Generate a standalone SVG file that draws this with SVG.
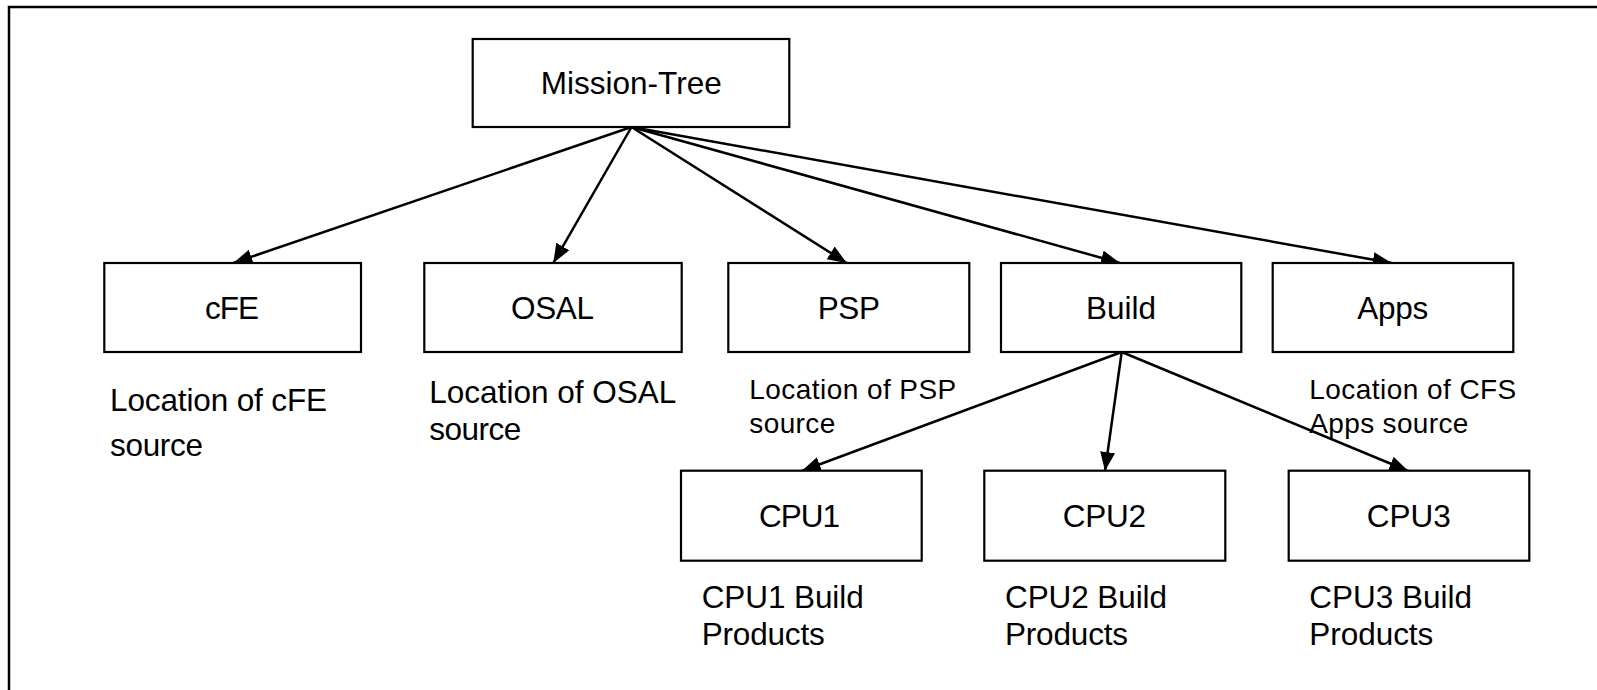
<svg xmlns="http://www.w3.org/2000/svg" width="1597" height="690" viewBox="0 0 1597 690">
<style>
.box{fill:#fff;stroke:#000;stroke-width:2.2}
.t{font-family:"Liberation Sans",Arial,sans-serif;font-size:31.5px;fill:#000}
.s{font-family:"Liberation Sans",Arial,sans-serif;font-size:28px;fill:#000}
.c{stroke:#000;stroke-width:2.5;fill:none}
</style>
<defs>
<marker id="ah" markerUnits="userSpaceOnUse" markerWidth="22" markerHeight="16" refX="19" refY="7.5" orient="auto">
<path d="M0,0 L19,7.5 L0,15 z" fill="#000"/>
</marker>
</defs>
<rect x="9" y="7" width="1620" height="720" fill="#fff" stroke="#000" stroke-width="2.5"/>
<g id="connectors">
<line class="c" x1="631.5" y1="127" x2="233.3" y2="263" marker-end="url(#ah)"/>
<line class="c" x1="631.5" y1="127" x2="553.3" y2="263" marker-end="url(#ah)"/>
<line class="c" x1="631.5" y1="127" x2="846.7" y2="263" marker-end="url(#ah)"/>
<line class="c" x1="631.5" y1="127" x2="1120" y2="263" marker-end="url(#ah)"/>
<line class="c" x1="631.5" y1="127" x2="1391.7" y2="263" marker-end="url(#ah)"/>
<line class="c" x1="1121.7" y1="352" x2="801.7" y2="471" marker-end="url(#ah)"/>
<line class="c" x1="1121.7" y1="352" x2="1105" y2="471" marker-end="url(#ah)"/>
<line class="c" x1="1121.7" y1="352" x2="1408.3" y2="471" marker-end="url(#ah)"/>
</g>
<g id="mission-tree">
<rect class="box" x="472.7" y="39" width="316.6" height="88"/>
<text class="t" x="540.7" y="94.3" textLength="181">Mission-Tree</text>
</g>
<g id="cfe">
<rect class="box" x="104.3" y="263" width="256.7" height="89"/>
<text class="t" x="205" y="319.3" textLength="54">cFE</text>
<text class="t" x="110" y="411" textLength="217">Location of cFE</text>
<text class="t" x="110" y="456" textLength="93">source</text>
</g>
<g id="osal">
<rect class="box" x="424.3" y="263" width="257.4" height="89"/>
<text class="t" x="511" y="319.3" textLength="83">OSAL</text>
<text class="t" x="429.3" y="403" textLength="247">Location of OSAL</text>
<text class="t" x="429.3" y="440" textLength="92">source</text>
</g>
<g id="psp">
<rect class="box" x="728.3" y="263" width="241" height="89"/>
<text class="t" x="817.7" y="319.3" textLength="62.3">PSP</text>
<text class="s" x="749.3" y="399" textLength="207">Location of PSP</text>
<text class="s" x="749.3" y="433" textLength="86">source</text>
</g>
<g id="build">
<rect class="box" x="1001" y="263" width="240.3" height="89"/>
<text class="t" x="1086" y="319.3" textLength="70">Build</text>
</g>
<g id="apps">
<rect class="box" x="1272.7" y="263" width="240.6" height="89"/>
<text class="t" x="1357.3" y="319.3" textLength="71">Apps</text>
<text class="s" x="1309.3" y="399" textLength="207">Location of CFS</text>
<text class="s" x="1309.3" y="433" textLength="159">Apps source</text>
</g>
<g id="cpu1">
<rect class="box" x="681" y="470.7" width="240.7" height="90"/>
<text class="t" x="759" y="527.3" textLength="81">CPU1</text>
<text class="t" x="701.7" y="608.3" textLength="162">CPU1 Build</text>
<text class="t" x="701.7" y="645" textLength="123">Products</text>
</g>
<g id="cpu2">
<rect class="box" x="984.3" y="470.7" width="241" height="90"/>
<text class="t" x="1062.7" y="527.3" textLength="83.3">CPU2</text>
<text class="t" x="1005" y="608.3" textLength="162">CPU2 Build</text>
<text class="t" x="1005" y="645" textLength="123">Products</text>
</g>
<g id="cpu3">
<rect class="box" x="1288.7" y="470.7" width="240.6" height="90"/>
<text class="t" x="1366.7" y="527.3" textLength="84">CPU3</text>
<text class="t" x="1309.3" y="608.3" textLength="162.7">CPU3 Build</text>
<text class="t" x="1309.3" y="645" textLength="124">Products</text>
</g>
</svg>
